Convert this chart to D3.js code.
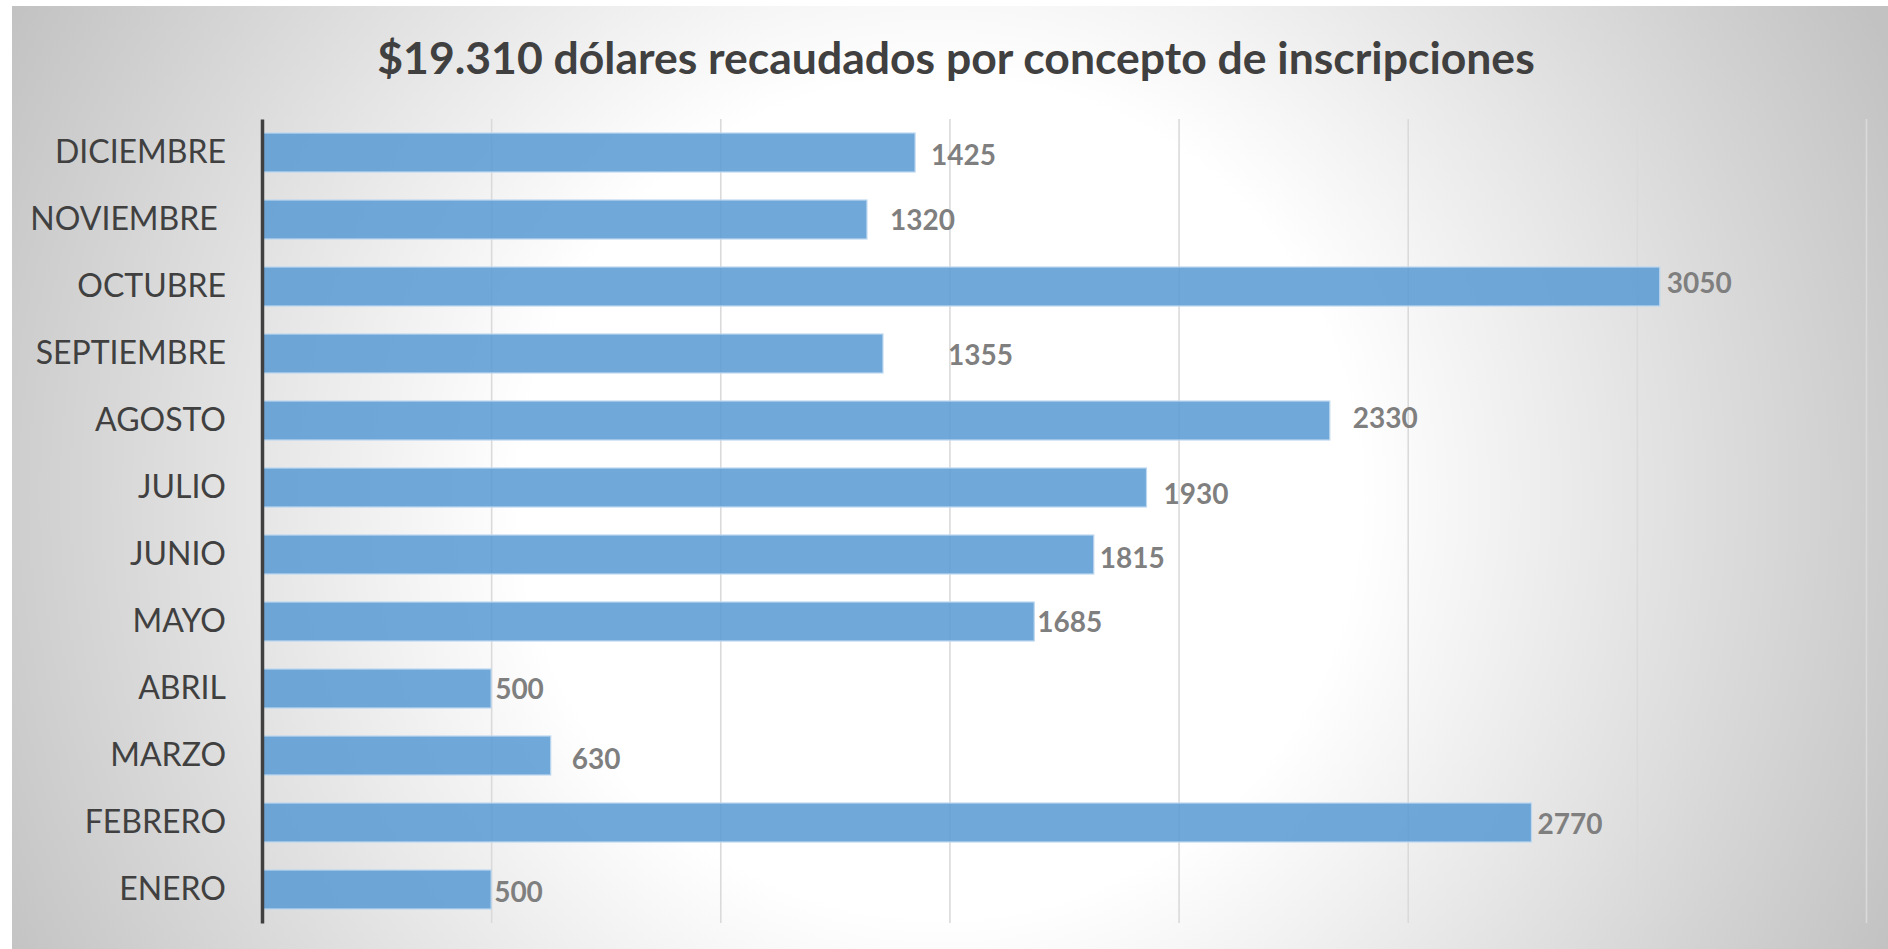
<html>

<head>
    <title>Inscripciones 2019</title>
    <meta charset="utf-8" />
    <script src="https://d3js.org/d3.v7.min.js"></script>
</head>
<style>
    body {
        margin: 0;
        padding: 0;
        background: white;
    }

    #chart {
        position: absolute;
        top: 0;
        left: 0;
    }
</style>

<body style="margin:0">
    <div id="chart"></div>
</body>

<script type="text/javascript">

    // monto por mes (el de arriba primero, como en el excel)
    // dx / dy = donde quedaron las etiquetas movidas a mano
    const data = [
        { mes: "DICIEMBRE", valor: 1425, dx: 16, dy: 2 },
        { mes: "NOVIEMBRE ", valor: 1320, dx: 23, dy: 0 },
        { mes: "OCTUBRE", valor: 3050, dx: 7, dy: -4 },
        { mes: "SEPTIEMBRE", valor: 1355, dx: 65, dy: 1 },
        { mes: "AGOSTO", valor: 2330, dx: 23, dy: -3 },
        { mes: "JULIO", valor: 1930, dx: 17, dy: 6 },
        { mes: "JUNIO", valor: 1815, dx: 6, dy: 3 },
        { mes: "MAYO", valor: 1685, dx: 3, dy: 0 },
        { mes: "ABRIL", valor: 500, dx: 4, dy: 0 },
        { mes: "MARZO", valor: 630, dx: 21, dy: 3 },
        { mes: "FEBRERO", valor: 2770, dx: 6, dy: 1 },
        { mes: "ENERO", valor: 500, dx: 3, dy: 2 }
    ];

    const width = 1888, height = 949;
    const fontFam = "Lato, 'Open Sans', sans-serif";

    var svg = d3.select("#chart")
        .append("svg")
        .attr("width", width)
        .attr("height", height);

    var defs = svg.append("defs");

    // fondo gris con centro blanco
    var bg = defs.append("radialGradient")
        .attr("id", "bg")
        .attr("gradientUnits", "userSpaceOnUse")
        .attr("cx", 940).attr("cy", 497).attr("r", 1050);
    bg.append("stop").attr("offset", 0).attr("stop-color", "#ffffff");
    bg.append("stop").attr("offset", 0.4).attr("stop-color", "#ffffff");
    bg.append("stop").attr("offset", 1).attr("stop-color", "#c2c2c2");

    var x = d3.scaleLinear()
        .domain([0, 3500])
        .range([262, 1866]);

    var y = d3.scaleBand()
        .domain(data.map(d => d.mes))
        .range([119, 923])
        .paddingInner(0.418)
        .paddingOuter(0.209);

    // lineas de grilla, mas oscuras abajo
    var gg = defs.append("linearGradient")
        .attr("id", "grid")
        .attr("gradientUnits", "userSpaceOnUse")
        .attr("x1", 0).attr("x2", 0)
        .attr("y1", y.range()[0]).attr("y2", y.range()[1]);
    gg.append("stop").attr("offset", 0).attr("stop-color", "#dadada");
    gg.append("stop").attr("offset", 1).attr("stop-color", "#858585");

    svg.append("rect")
        .attr("x", 12)
        .attr("y", 6)
        .attr("width", width - 12)
        .attr("height", height - 6)
        .attr("fill", "url(#bg)");

    var grid = d3.axisBottom(x)
        .tickValues(d3.range(500, 3501, 500))
        .tickSize(-(y.range()[1] - y.range()[0]))
        .tickFormat("");

    svg.append("g")
        .attr("transform", "translate(0," + y.range()[1] + ")")
        .call(grid)
        .call(g => g.select(".domain").remove())
        .selectAll("line")
        .attr("stroke", "url(#grid)")
        .attr("stroke-width", 1.6);

    // barras
    svg.append("g")
        .selectAll("rect")
        .data(data)
        .enter()
        .append("rect")
        .attr("x", x(0))
        .attr("y", d => y(d.mes))
        .attr("width", d => x(d.valor) - x(0))
        .attr("height", y.bandwidth())
        .attr("fill", "#5b9bd5")
        .attr("fill-opacity", 0.87)
        .attr("stroke", "#bdd7ee")
        .attr("stroke-width", 1.2);

    // eje de categorias
    var yAxis = d3.axisLeft(y).tickSize(0).tickPadding(36);

    svg.append("g")
        .attr("transform", "translate(" + x(0) + ",0)")
        .call(yAxis)
        .call(g => g.select(".domain")
            .attr("stroke", "#404040")
            .attr("stroke-width", 3.5))
        .selectAll("text")
        .attr("fill", "#404040")
        .style("font-family", fontFam)
        .style("font-size", "32px")
        .style("white-space", "pre");

    // etiquetas de valores
    svg.append("g")
        .selectAll("text")
        .data(data)
        .enter()
        .append("text")
        .attr("x", d => x(d.valor) + d.dx)
        .attr("y", d => y(d.mes) + y.bandwidth() / 2 + d.dy)
        .attr("dy", "0.36em")
        .attr("fill", "#7f7f7f")
        .style("font-family", fontFam)
        .style("font-weight", "bold")
        .style("font-size", "28px")
        .text(d => d.valor);

    // titulo, ajustado al ancho del original
    var title = svg.append("text")
        .attr("x", 956)
        .attr("y", 74)
        .attr("text-anchor", "middle")
        .attr("fill", "#404040")
        .style("font-family", fontFam)
        .style("font-weight", "bold")
        .style("font-size", "40px")
        .text("$19.310 dólares recaudados por concepto de inscripciones");

    var w = title.node().getComputedTextLength();
    title.style("font-size", (40 * 1158 / w).toFixed(1) + "px");

</script>

</html>
